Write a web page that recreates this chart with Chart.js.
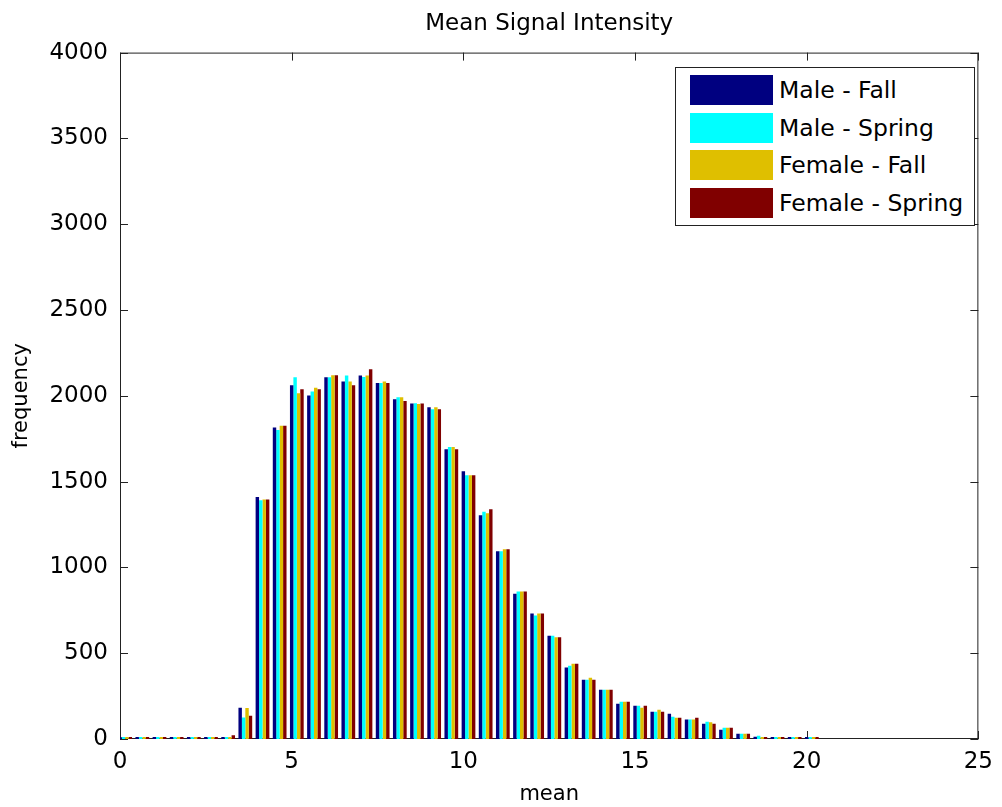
<!DOCTYPE html>
<html>
<head>
<meta charset="utf-8">
<script src="https://cdn.jsdelivr.net/npm/chart.js@4/dist/chart.umd.min.js"></script>
<style>
	body { margin: 0; background: #fff; }
	#wrap { position: relative; width: 1002px; height: 807px; }
	#legend {
		position: absolute; left: 675px; top: 67px; width: 298px; height: 157px;
		border: 1px solid #222; background: #fff;
		font-family: 'DejaVu Sans', sans-serif; font-size: 23.5px; color: #000;
	}
	.row { position: absolute; left: 14px; height: 30px; }
	.sw { position: absolute; left: 0; top: 0; width: 83px; height: 30px; }
	.lb { position: absolute; left: 89px; top: 0px; line-height: 30px; white-space: nowrap; }
</style>
</head>
<body>
<div id="wrap">
	<canvas id="histChart" width="1002" height="807"></canvas>
	<div id="legend"></div>
</div>
<script>
// bin centres (mean)
const binCenters = [
	0.15, 0.65, 1.15, 1.65, 2.15, 2.65, 3.15, 3.65, 4.15, 4.65,
	5.15, 5.65, 6.15, 6.65, 7.15, 7.65, 8.15, 8.65, 9.15, 9.65,
	10.15, 10.65, 11.15, 11.65, 12.15, 12.65, 13.15, 13.65, 14.15, 14.65,
	15.15, 15.65, 16.15, 16.65, 17.15, 17.65, 18.15, 18.65, 19.15, 19.65,
	20.15
];

const seriesNames = ['Male - Fall', 'Male - Spring', 'Female - Fall', 'Female - Spring'];
const seriesColors = ['#000080', '#00ffff', '#dfbf00', '#800000'];

const maleFall = [
	3, 4, 3, 4, 3, 4, 5, 182, 1410, 1815,
	2062, 2002, 2108, 2083, 2118, 2074, 1980, 1955, 1934, 1689,
	1561, 1304, 1094, 847, 731, 602, 416, 346, 287, 206,
	194, 159, 147, 113, 89, 54, 31, 13, 5, 3,
	2
];
const maleSpring = [
	4, 3, 4, 3, 4, 3, 4, 125, 1392, 1800,
	2108, 2025, 2108, 2118, 2110, 2074, 1992, 1957, 1922, 1701,
	1537, 1325, 1094, 860, 719, 602, 427, 346, 287, 217,
	194, 159, 130, 113, 101, 66, 31, 19, 5, 3,
	2
];
const femaleFall = [
	3, 4, 3, 4, 3, 4, 6, 180, 1395, 1826,
	2015, 2047, 2120, 2083, 2118, 2083, 1992, 1952, 1934, 1701,
	1537, 1316, 1106, 860, 731, 593, 439, 357, 287, 217,
	182, 171, 124, 113, 98, 66, 31, 7, 5, 3,
	2
];
const femaleSpring = [
	4, 3, 4, 3, 4, 3, 22, 136, 1395, 1826,
	2038, 2038, 2120, 2062, 2155, 2074, 1969, 1955, 1922, 1689,
	1537, 1339, 1106, 860, 731, 593, 439, 346, 287, 217,
	194, 159, 124, 124, 89, 66, 31, 7, 5, 3,
	2
];
const seriesValues = [maleFall, maleSpring, femaleFall, femaleSpring];

const xTicks = [0, 5, 10, 15, 20, 25];
const yTicks = [0, 500, 1000, 1500, 2000, 2500, 3000, 3500, 4000];

const family = "'DejaVu Sans', sans-serif";
const tickFont = { family: family, size: 23 };
const labelFont = { family: family, size: 21 };
const axisColor = '#222';

// MATLAB-style box with inward tick marks
const boxPlugin = {
	id: 'box',
	beforeDatasetsDraw(chart) {
		const { ctx, chartArea: a, scales } = chart;
		ctx.save();
		ctx.strokeStyle = axisColor;
		ctx.lineWidth = 1;
		ctx.strokeRect(a.left + 0.5, a.top + 0.5, a.right - a.left - 1, a.bottom - a.top - 1);
		ctx.beginPath();
		xTicks.forEach(v => {
			const x = Math.round(scales.x.getPixelForValue(v)) + 0.5;
			ctx.moveTo(x, a.bottom); ctx.lineTo(x, a.bottom - 8);
			ctx.moveTo(x, a.top); ctx.lineTo(x, a.top + 8);
		});
		yTicks.forEach(v => {
			const y = Math.round(scales.y.getPixelForValue(v)) + 0.5;
			ctx.moveTo(a.left, y); ctx.lineTo(a.left + 8, y);
			ctx.moveTo(a.right, y); ctx.lineTo(a.right - 8, y);
		});
		ctx.stroke();
		ctx.restore();
	}
};

new Chart(document.getElementById('histChart'), {
	type: 'bar',
	data: {
		datasets: seriesNames.map((name, i) => ({
			label: name,
			data: binCenters.map((c, j) => ({ x: c, y: seriesValues[i][j] })),
			backgroundColor: seriesColors[i],
			borderWidth: 0,
			minBarLength: 2,
			categoryPercentage: 0.8,
			barPercentage: 1.0
		}))
	},
	options: {
		responsive: false,
		animation: false,
		layout: { padding: { left: 0, right: 13, top: 0, bottom: 0 } },
		plugins: {
			legend: { display: false },
			tooltip: { enabled: false },
			title: {
				display: true,
				fullSize: false,
				text: 'Mean Signal Intensity',
				color: '#000',
				font: { family: family, size: 23, weight: 'normal' },
				padding: { top: 10, bottom: 15 }
			}
		},
		scales: {
			x: {
				type: 'linear',
				min: 0,
				max: 25,
				offset: false,
				grid: { display: false, drawTicks: false, offset: false },
				border: { display: false },
				afterBuildTicks: s => { s.ticks = xTicks.map(v => ({ value: v })); },
				afterFit: s => { s.height = 68; },
				ticks: { color: '#000', font: tickFont, padding: 9, maxRotation: 0 },
				title: { display: true, text: 'mean', color: '#000', font: labelFont, padding: { top: 0, bottom: 0 } }
			},
			y: {
				min: 0,
				max: 4000,
				grid: { display: false, drawTicks: false },
				border: { display: false },
				afterBuildTicks: s => { s.ticks = yTicks.map(v => ({ value: v })); },
				afterFit: s => { s.width = 120; },
				ticks: { color: '#000', font: tickFont, padding: 12, callback: v => String(v) },
				title: { display: true, text: 'frequency', color: '#000', font: labelFont, padding: { top: 9, bottom: 0 } }
			}
		}
	},
	plugins: [boxPlugin]
});

// legend box inside the axes, like MATLAB
const legend = document.getElementById('legend');
seriesNames.forEach((name, i) => {
	const row = document.createElement('div');
	row.className = 'row';
	row.style.top = (7 + i * 37.5) + 'px';
	row.innerHTML = '<div class="sw" style="background:' + seriesColors[i] + '"></div><span class="lb">' + name + '</span>';
	legend.appendChild(row);
});
</script>
</body>
</html>
